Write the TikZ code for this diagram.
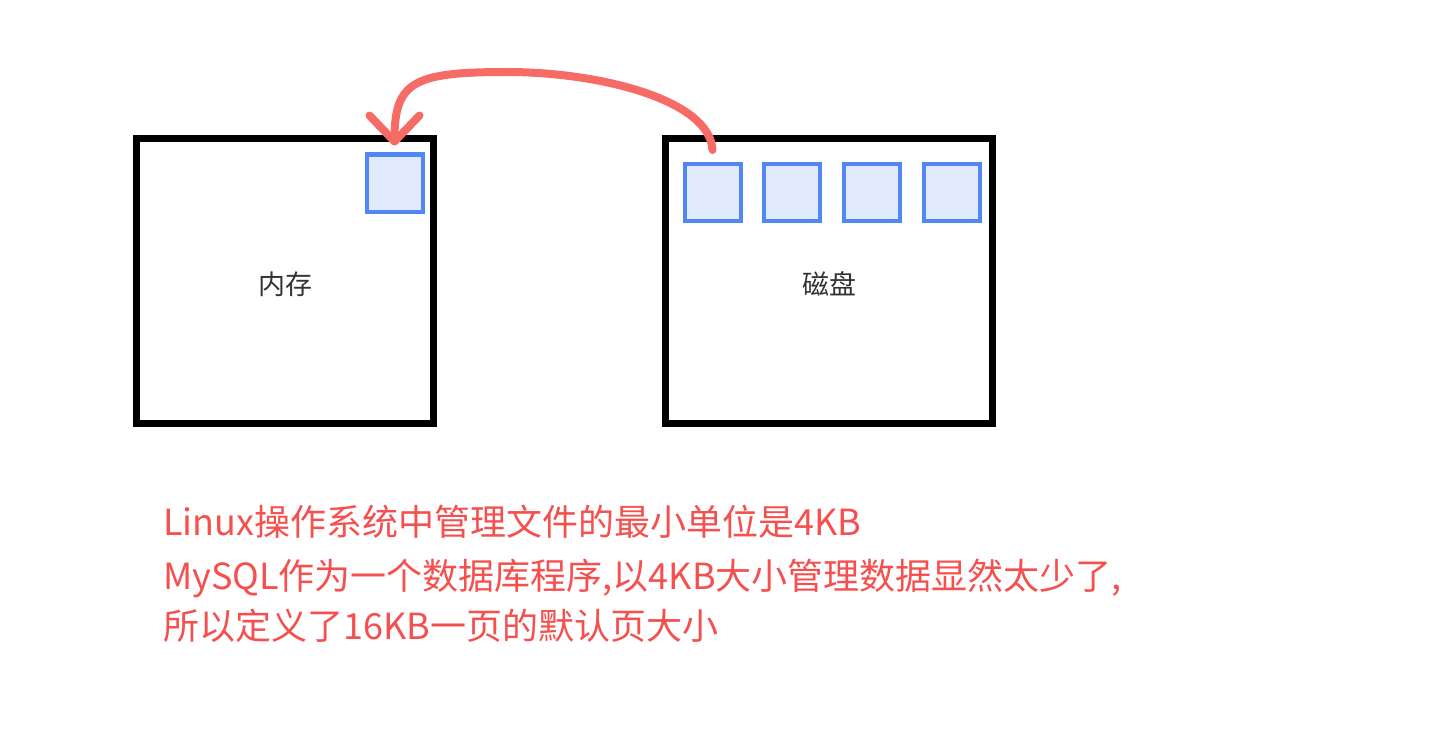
\documentclass[tikz,border=0pt]{standalone}
\usepackage{fontspec}
\setmainfont{Noto Sans CJK SC}
\newfontfamily\cjk{Noto Sans CJK SC}
\usetikzlibrary{calc}
\definecolor{boxblue}{HTML}{5087F5}
\definecolor{boxfill}{HTML}{E1E9FD}
\definecolor{arrowred}{HTML}{F76B67}
\definecolor{textred}{HTML}{F5504E}
\definecolor{labelgray}{HTML}{333333}
\tikzset{
  bigbox/.style={draw=black, line width=7pt, fill=white},
  pagebox/.style={draw=boxblue, line width=4pt, fill=boxfill, minimum width=56pt, minimum height=57pt, inner sep=0pt},
  lbl/.style={text=labelgray, font=\cjk\fontsize{27}{30}\selectfont},
  note/.style={text=textred, font=\cjk\fontsize{36}{40}\selectfont, anchor=base west, inner sep=0pt},
  movearrow/.style={draw=arrowred, line width=8pt, line cap=round, line join=round}
}
\begin{document}
\begin{tikzpicture}[x=1pt,y=-1pt]
\useasboundingbox (0,0) rectangle (1448,749);
\fill[white] (0,0) rectangle (1448,749);
% big boxes
\draw[bigbox] (136,138.5) rectangle (433.5,423.5);
\draw[bigbox] (665.5,138.5) rectangle (992.5,423.5);
\node[lbl] (mem) at (285,284) {内存};
\node[lbl] (disk) at (829,284) {磁盘};
% pages
\node[pagebox] (m1) at (394.5,183) {};
\node[pagebox] (d1) at (712.5,192.5) {};
\node[pagebox] (d2) at (792,192.5) {};
\node[pagebox] (d3) at (872,192.5) {};
\node[pagebox] (d4) at (951.5,192.5) {};
% arrow
\coordinate (s) at ($(d1.north)+(0,-12)$);
\coordinate (e) at ($(m1.north)+(0,-11)$);
\coordinate (top) at (507,72);
\draw[movearrow] (s) .. controls (710,100) and (600,72) .. (top)
  .. controls (412,72) and (394,82) .. (e);
\draw[movearrow] ($(e)+(-25,-26)$) -- (e) -- ($(e)+(25,-26)$);
% text
\node[note] (t1) at (163,535) {Linux操作系统中管理文件的最小单位是4KB};
\node[note] (t2) at (163,589) {MySQL作为一个数据库程序,以4KB大小管理数据显然太少了,};
\node[note] (t3) at (163,639) {所以定义了16KB一页的默认页大小};
\end{tikzpicture}
\end{document}
